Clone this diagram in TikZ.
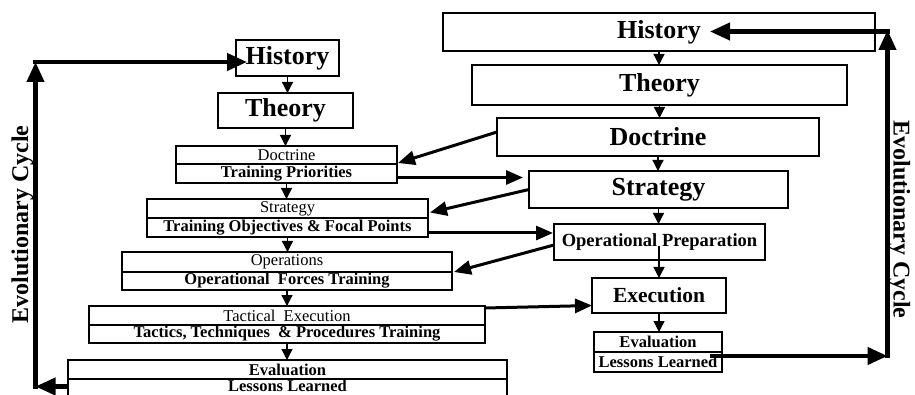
\documentclass[tikz,border=0pt]{standalone}
\usepackage{fontspec}
\setmainfont{Liberation Serif}
\usetikzlibrary{arrows.meta,calc}
\begin{document}
\begin{tikzpicture}[x=1pt,y=-1pt,
  box/.style={draw=black,line width=1.1pt,inner sep=0pt,outer sep=0pt,align=center},
  bb/.style={font=\fontsize{26}{26}\selectfont\bfseries},
  sb/.style={font=\fontsize{16.5}{16.5}\selectfont\bfseries},
  sr/.style={font=\fontsize{16.5}{16.5}\selectfont},
  varrow/.style={line width=1.3pt,-{Triangle[length=11pt,width=11pt]}},
  xarrow/.style={line width=3pt,-{Triangle[length=17pt,width=14pt]}},
  larrow/.style={line width=4.2pt,-{Triangle[length=20pt,width=17pt]}},
  cyc/.style={font=\fontsize{24}{24}\selectfont\bfseries,anchor=base,inner sep=0pt}
]
\useasboundingbox (0,0) rectangle (915,395);

% left column
\node[box,bb,minimum width=103pt,minimum height=36pt] (lhist) at (287.5,58) {History};
\node[box,bb,minimum width=135pt,minimum height=35pt] (lthe) at (285.5,110.5) {Theory};
\node[box,sr,minimum width=221pt,minimum height=18pt] (ldocA) at (286.5,155) {Doctrine};
\node[box,sb,minimum width=221pt,minimum height=19pt] (ldocB) at (286.5,173.5) {Training Priorities};
\node[box,sr,minimum width=281pt,minimum height=19pt] (lstrA) at (287.5,208.5) {Strategy};
\node[box,sb,minimum width=281pt,minimum height=19pt] (lstrB) at (287.5,227.5) {Training Objectives \& Focal Points};
\node[box,sr,minimum width=330pt,minimum height=20pt] (lopsA) at (287,262) {Operations};
\node[box,sb,minimum width=330pt,minimum height=18pt] (lopsB) at (287,281) {Operational~ Forces Training};
\node[box,sr,minimum width=396pt,minimum height=19pt] (ltacA) at (287,315.5) {Tactical~ Execution};
\node[box,sb,minimum width=396pt,minimum height=18pt] (ltacB) at (287,334) {Tactics, Techniques~ \& Procedures Training};
\node[box,sb,minimum width=439pt,minimum height=19pt] (levalA) at (287.5,369.5) {Evaluation};
\node[box,minimum width=439pt,minimum height=17.5pt] (levalB) at (287.5,387.75) {};
\node[sb,inner sep=0pt] (lltext) at (287.5,385.5) {Lessons Learned};

% right column
\node[box,bb,minimum width=432pt,minimum height=38pt] (rhist) at (659,32) {History};
\node[box,bb,minimum width=375pt,minimum height=40pt] (rthe) at (659.5,85) {Theory};
\node[box,bb,minimum width=322pt,minimum height=38pt] (rdoc) at (658,137) {Doctrine};
\node[box,bb,minimum width=259pt,minimum height=37pt] (rstr) at (658.5,189.5) {Strategy};
\node[box,font=\fontsize{18.5}{18.5}\selectfont\bfseries,minimum width=211pt,minimum height=36pt] (rop) at (659.5,242) {Operational Preparation};
\node[box,font=\fontsize{21.5}{21.5}\selectfont\bfseries,minimum width=134pt,minimum height=35pt] (rexe) at (659,295.5) {Execution};
\node[box,sb,minimum width=128pt,minimum height=20pt] (revalA) at (658,342) {Evaluation};
\node[box,sb,minimum width=128pt,minimum height=20pt] (revalB) at (658,362) {Lessons Learned};

% vertical arrows left
\draw[varrow] (lhist.south) -- (lhist.south |- lthe.north);
\draw[varrow] (lthe.south) -- (lthe.south |- ldocA.north);
\draw[varrow] (ldocB.south) -- (ldocB.south |- lstrA.north);
\draw[varrow] (lstrB.south) -- (lstrB.south |- lopsA.north);
\draw[varrow] (lopsB.south) -- (lopsB.south |- ltacA.north);
\draw[varrow] (ltacB.south) -- (ltacB.south |- levalA.north);

% vertical arrows right
\draw[varrow] (rhist.south) -- (rhist.south |- rthe.north);
\draw[varrow] (rthe.south) -- (rthe.south |- rdoc.north);
\draw[varrow] (rdoc.south) -- (rdoc.south |- rstr.north);
\draw[varrow] (rstr.south) -- (rstr.south |- rop.north);
\draw[varrow] ($(rop.center)+(-0.5,4)$) -- (rexe.north);
\draw[varrow] (rexe.south) -- (rexe.south |- revalA.north);

% cross arrows
\draw[xarrow] ($(rdoc.west)+(0,-5)$) -- ($(ldocA.south east)+(1,-1)$);
\draw[xarrow] ($(ldocB.east)+(0,4)$) -- ($(rstr.west)+(-6,-12)$);
\draw[xarrow] (rstr.west) -- ($(lstrA.east)+(2,4)$);
\draw[xarrow] ($(lstrB.east)+(0,5.5)$) -- ($(rop.west)+(-1,-9)$);
\draw[xarrow] ($(rop.west)+(0,3)$) -- ($(lopsA.south east)+(2,0)$);
\draw[xarrow] ($(ltacA.north east)+(0,2)$) -- ($(rexe.west)+(0,10)$);

% left loop
\coordinate (cl1) at (35.5,386.5);
\coordinate (cl2) at (35.5,62);
\draw[larrow] ($(levalB.west)+(0,-1.25)$) -- (cl1);
\draw[larrow] ($(cl1)+(0,2.1)$) -- (cl2);
\draw[larrow] ($(cl2)+(-2.1,0)$) -- ($(lhist.west)+(11,4)$);

% right loop
\coordinate (cr1) at (887.5,356);
\coordinate (cr2) at (887.5,30);
\draw[larrow] ($(revalB.east)+(-12,-6)$) -- (cr1);
\draw[larrow] ($(cr1)+(0,2.1)$) -- (cr2);
\draw[larrow] ($(cr2)+(2.1,1.5)$) -- ($(rhist.center)+(51,-0.5)$);

% labels
\node[cyc,rotate=90] (evl) at (28,224.5) {Evolutionary Cycle};
\node[cyc,rotate=-90] (evr) at (893.5,219.5) {Evolutionary Cycle};
\end{tikzpicture}
\end{document}
